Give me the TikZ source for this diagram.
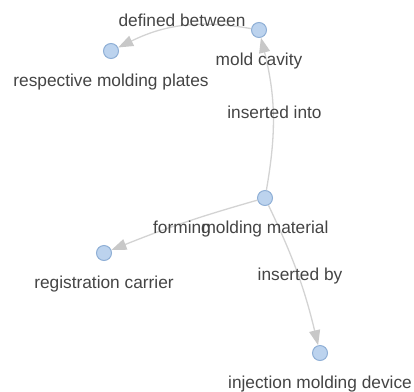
\documentclass[tikz,border=0pt]{standalone}
\usepackage{fontspec}
\setmainfont{Liberation Sans}
\usetikzlibrary{arrows.meta}
\definecolor{nodefill}{HTML}{BCD3EE}
\definecolor{nodedraw}{HTML}{8FAFD6}
\definecolor{edgecol}{HTML}{D3D3D3}
\definecolor{tipcol}{HTML}{C8C8C8}
\definecolor{txt}{HTML}{444444}
\begin{document}
\begin{tikzpicture}[x=1pt,y=-1pt,
  vtx/.style={circle,fill=nodefill,draw=nodedraw,line width=1pt,minimum size=15pt,inner sep=0pt},
  lbl/.style={anchor=base,text=txt,font=\fontsize{17.3}{20}\selectfont,inner sep=0pt},
  edgeline/.style={draw=edgecol,line width=1.3pt,-{Triangle[length=15pt,width=11pt,color=tipcol]}},
]
\useasboundingbox (0,0) rectangle (414,391);
\node[vtx] (mc) at (259,30) {};
\node[vtx] (rp) at (111,51) {};
\node[vtx] (mm) at (265,198) {};
\node[vtx] (rc) at (104,253) {};
\node[vtx] (im) at (320,353) {};
\draw[edgeline] (mc) to[bend right=18] (rp);
\draw[edgeline] (mm) to[bend right=12] (mc);
\draw[edgeline] (mm) to[bend right=3] (rc);
\draw[edgeline] (mm) to[bend left=6] (im);
\node[lbl] (mct) at (259,65) {mold cavity};
\node[lbl] (rpt) at (111,86) {respective molding plates};
\node[lbl] (mmt) at (265,233) {molding material};
\node[lbl] (rct) at (104,288) {registration carrier};
\node[lbl] (imt) at (320,388) {injection molding device};
\node[lbl] (e1) at (182,26) {defined between};
\node[lbl] (e2) at (274.5,118) {inserted into};
\node[lbl] (e3) at (182,233) {forming};
\node[lbl] (e4) at (300,280) {inserted by};
\end{tikzpicture}
\end{document}
